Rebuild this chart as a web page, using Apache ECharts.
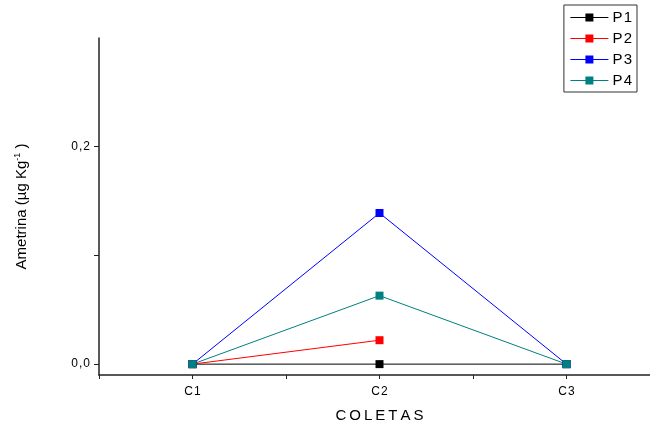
<!DOCTYPE html>
<html lang="pt">
<head>
<meta charset="UTF-8">
<title>Ametrina</title>
<script src="https://cdn.jsdelivr.net/npm/echarts@6/dist/echarts.min.js"></script>
<style>
  html,body{margin:0;padding:0;background:#fff;}
  #chart{width:650px;height:429px;}
</style>
</head>
<body>
<div id="chart"></div>
<script>
// dados
var coletas = ["C1", "C2", "C3"];
var seriesNames = ["P1", "P2", "P3", "P4"];
var p1 = [0, 0, 0];
var p2 = [0, 0.022, null];
var p3 = [0, 0.139, 0];
var p4 = [0, 0.063, 0];
var cores = ["#000000", "#ff0000", "#0000ff", "#008080"];
var yTicks = [0, 0.1, 0.2];
var yLabels = [0, 0.2];

var valores = [p1, p2, p3, p4];

function pares(arr){
    var out = [];
    for (var i = 0; i < arr.length; i++) {
        out.push([i + 1, arr[i]]);
    }
    return out;
}

// espaco fino entre letras, como no original
function espacar(txt){
    return txt.split('').join('\u200a');
}

var series = [];
for (var s = 0; s < seriesNames.length; s++) {
    series.push({
        name: seriesNames[s],
        type: 'line',
        data: pares(valores[s]),
        symbol: 'rect',
        symbolSize: 8,
        connectNulls: false,
        lineStyle: {color: cores[s], width: 1},
        itemStyle: {color: cores[s]},
        emphasis: {disabled: true}
    });
}

var chart = echarts.init(document.getElementById('chart'));
chart.setOption({
    animation: false,
    backgroundColor: '#fff',
    textStyle: {fontFamily: 'Arial, "Liberation Sans", sans-serif'},
    grid: {left: 99, right: -10, top: 38, bottom: 54, outerBoundsMode: 'none', containLabel: false},
    legend: {
        right: 13,
        top: 5,
        orient: 'vertical',
        itemGap: 6,
        itemWidth: 38,
        itemHeight: 10,
        padding: [5, 5, 4, 6],
        borderColor: '#333',
        borderWidth: 1,
        borderRadius: 0,
        lineStyle: {width: 1},
        textStyle: {fontSize: 15, color: '#000', padding: [0, 0, 0, -1]},
        formatter: function (n) { return espacar(n); },
        data: seriesNames
    },
    xAxis: {
        type: 'value',
        min: 0.5,
        max: 3.5,
        interval: 0.5,
        name: 'C\u2009O\u2009L\u2009E\u2009T\u2009A\u2009S',
        nameLocation: 'middle',
        nameGap: 33,
        nameTextStyle: {fontSize: 15, color: '#000'},
        splitLine: {show: false},
        axisLine: {onZero: false, lineStyle: {color: '#222', width: 1.5}},
        axisTick: {length: 4, lineStyle: {color: '#222', width: 1}},
        axisLabel: {
            fontSize: 12,
            color: '#000',
            margin: 11,
            showMinLabel: true,
            showMaxLabel: true,
            formatter: function (v) {
                var i = Math.round(v) - 1;
                if (Math.abs(v - Math.round(v)) > 1e-6 || !coletas[i]) return '';
                return espacar(coletas[i]);
            }
        }
    },
    yAxis: {
        type: 'value',
        min: -0.01,
        max: 0.3,
        name: '{a|Ametrina (µg Kg}{s|-1}{a| )}',
        nameLocation: 'middle',
        nameGap: 68,
        nameTextStyle: {
            color: '#000',
            rich: {
                a: {fontSize: 15, color: '#000', fontFamily: 'Arial, "Liberation Sans", sans-serif'},
                s: {fontSize: 9, color: '#000', verticalAlign: 'top', padding: [0, 0, 9, 0], fontFamily: 'Arial, "Liberation Sans", sans-serif'}
            }
        },
        splitLine: {show: false},
        axisLine: {show: true, onZero: false, lineStyle: {color: '#222', width: 1.5}},
        axisTick: {show: true, length: 5, customValues: yTicks, lineStyle: {color: '#222', width: 1}},
        axisLabel: {
            fontSize: 12,
            color: '#000',
            margin: 9,
            customValues: yLabels,
            formatter: function (v) {
                return espacar(v.toFixed(1).replace('.', ','));
            }
        }
    },
    series: series
});
</script>
</body>
</html>
